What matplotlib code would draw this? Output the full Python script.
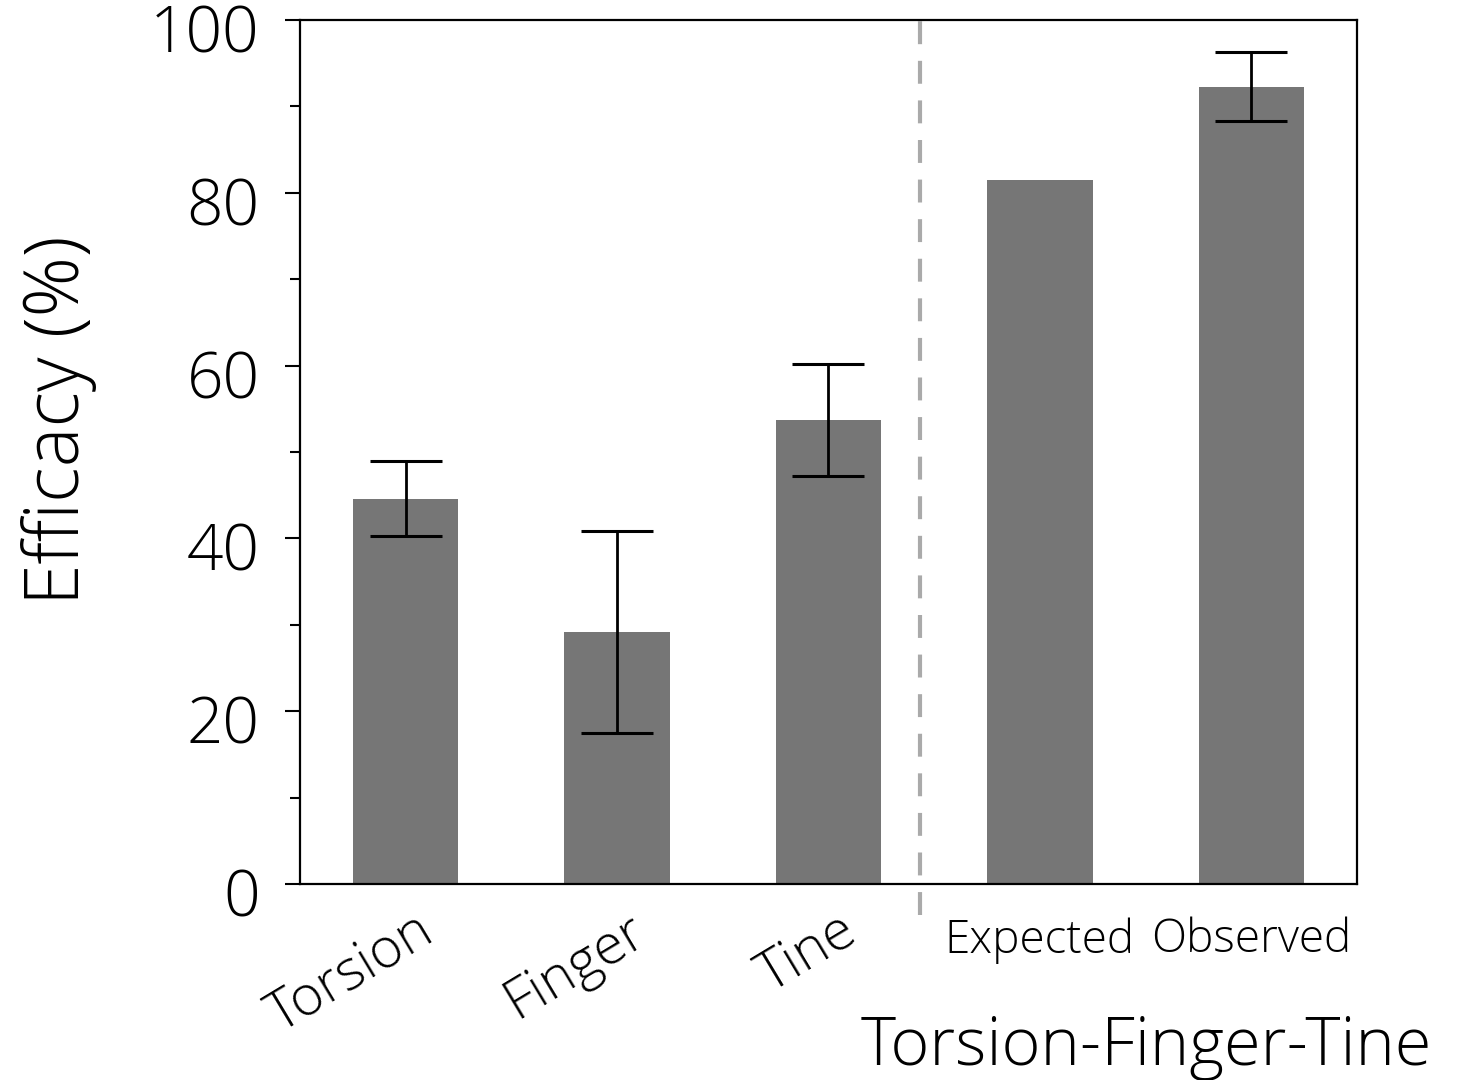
import matplotlib
matplotlib.use("Agg")
import matplotlib.pyplot as plt
import matplotlib.transforms as mtransforms
from matplotlib.ticker import MultipleLocator

plt.rcParams['font.family'] = ['Open Sans', 'DejaVu Sans']
plt.rcParams['font.weight'] = 'light'

categories = ["Torsion", "Finger", "Tine", "Expected", "Observed"]
efficacy = [44.6, 29.2, 53.7, 81.5, 92.3]
errors = [4.3, 11.7, 6.5, 0, 4.0]

fig = plt.figure(figsize=(14.63, 10.8), dpi=100)
ax = fig.add_axes([0.205, 0.1815, 0.7226, 0.8])

x = list(range(len(categories)))
ax.bar(x, efficacy, width=0.5, color="#767676", zorder=2)
for xi, v, e in zip(x, efficacy, errors):
    if e > 0:
        ax.errorbar(xi, v, yerr=e, fmt="none", ecolor="black", elinewidth=2,
                    capsize=26, capthick=2.2, zorder=3)

# separator between single and combined treatments
ax.axvline(2.435, ymin=-0.036, ymax=1.0, color="#aaaaaa", lw=3,
           linestyle=(0, (5.5, 4)), clip_on=False, zorder=1)

ax.set_xlim(-0.5, 4.5)
ax.set_ylim(0, 100)
ax.yaxis.set_major_locator(MultipleLocator(20))
ax.yaxis.set_minor_locator(MultipleLocator(10))
ax.tick_params(axis="y", which="major", length=11, width=1.5, labelsize=46, pad=18)
ax.tick_params(axis="y", which="minor", length=7, width=1.5)
ax.tick_params(axis="x", length=0, pad=24)

# nudge y tick labels slightly downward like the original
ydown = mtransforms.ScaledTranslation(0, -8 / 100, fig.dpi_scale_trans)
for lbl in ax.get_yticklabels():
    lbl.set_transform(lbl.get_transform() + ydown)

ax.set_xticks(x)
ax.set_xticklabels(categories)
shift = mtransforms.ScaledTranslation(10 / 100, 14 / 100, fig.dpi_scale_trans)
for i, lbl in enumerate(ax.get_xticklabels()):
    if i < 3:
        lbl.set_rotation(31)
        lbl.set_ha("right")
        lbl.set_rotation_mode("anchor")
        lbl.set_fontsize(40)
        lbl.set_transform(lbl.get_transform() + shift)
    else:
        lbl.set_fontsize(33)

for s in ax.spines.values():
    s.set_linewidth(1.6)

fig.text(0.04, 0.611, "Efficacy (%)", rotation=90, fontsize=54, ha="center", va="center")
fig.text(0.979, 0.014, "Torsion-Finger-Tine", fontsize=48, ha="right", va="baseline")

fig.savefig("out.png", dpi=100)
